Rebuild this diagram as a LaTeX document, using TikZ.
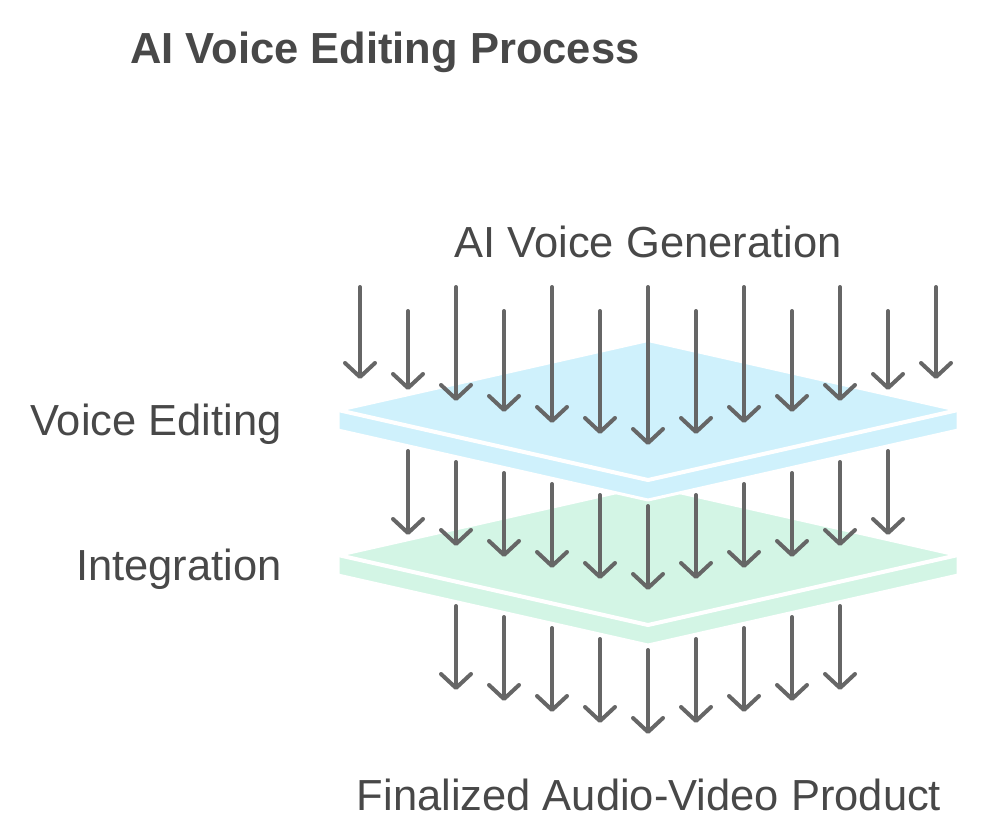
\documentclass[tikz,border=0pt]{standalone}
\usepackage{fontspec}
\setmainfont{Liberation Sans}
\usetikzlibrary{arrows.meta}

\definecolor{platesky}{HTML}{CFF1FC}
\definecolor{platemint}{HTML}{D3F5E5}
\definecolor{arrowgray}{HTML}{666666}
\definecolor{inkgray}{HTML}{484848}

\tikzset{
	lbl/.style={text=inkgray, font=\fontsize{43.5}{50}\selectfont, inner sep=0pt},
	flow/.style={draw=arrowgray, line width=4pt, line cap=round, -{Straight Barb[length=14pt,width=30pt,round]}},
	slab/.style={draw=white, line width=3pt, line join=round},
}

\begin{document}
\begin{tikzpicture}[x=1pt,y=-1pt]
			\useasboundingbox (0,0) rectangle (986,840);
			
			%%%plates, lower one first
			\foreach \dy / \col in {145/platemint, 0/platesky}
			{
				\fill[\col, slab] (338,{410+\dy})--(648,{480+\dy})--(958,{410+\dy})--(958,{430+\dy})--(648,{500+\dy})--(338,{430+\dy})--cycle;
				\fill[\col, slab, line width=4pt] (338,{410+\dy})--(648,{340+\dy})--(958,{410+\dy})--(648,{480+\dy})--cycle;
			}
			
			%%%arrows into the top plate
			\foreach \k in {0,...,12}
			{
				\pgfmathtruncatemacro\m{min(\k,12-\k)}
				\pgfmathtruncatemacro\s{ifthenelse(mod(\k,2)==0,287,311)}
				\draw[flow] ({360+48*\k},\s)--({360+48*\k},{379+11*\m});
			}
			
			%%%between the plates
			\foreach \k in {1,...,11}
			{
				\pgfmathtruncatemacro\m{min(\k,12-\k)}
				\draw[flow] ({360+48*\k},{440+11*\m})--({360+48*\k},{524+11*\m});
			}
			
			%%%out of the lower plate
			\foreach \k in {2,...,10}
			{
				\pgfmathtruncatemacro\m{min(\k,12-\k)}
				\draw[flow] ({360+48*\k},{584+11*\m})--({360+48*\k},{668+11*\m});
			}
			
			%%nodes
			\node[lbl, font=\fontsize{43.5}{50}\selectfont\bfseries, anchor=base west] (title) at (130,64) {AI Voice Editing Process};
			\node[lbl, anchor=base] (gen) at (648,257) {AI Voice Generation};
			\node[lbl, anchor=base east] (edit) at (282,435) {Voice Editing};
			\node[lbl, anchor=base east] (integ) at (282,580) {Integration};
			\node[lbl, anchor=base] (final) at (649,810) {Finalized Audio-Video Product};
		\end{tikzpicture}
\end{document}
